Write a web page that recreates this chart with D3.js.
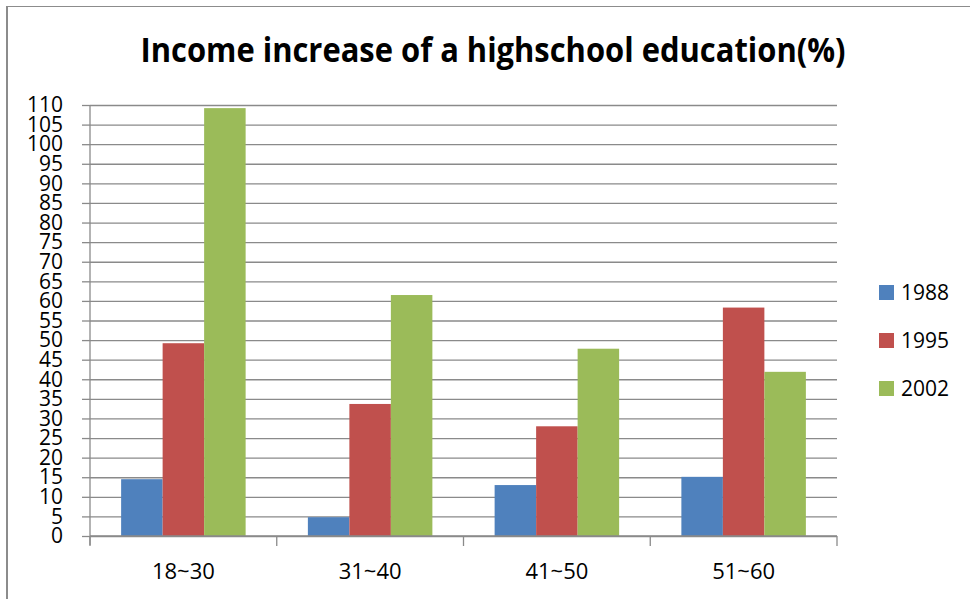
<!DOCTYPE html>
<html>
<head>
<meta charset="utf-8">
<script src="https://cdn.jsdelivr.net/npm/d3@7"></script>
<style>
  html, body { margin: 0; padding: 0; background: #fff; }
  svg { display: block; }
  text { font-family: "Open Sans", "DejaVu Sans", sans-serif; fill: #000; }
</style>
</head>
<body>
<svg id="chart" width="970" height="599"></svg>
<script>
// Age groups along the x axis
const categories = ["18~30", "31~40", "41~50", "51~60"];
// Survey years, one bar series each
const seriesNames = ["1988", "1995", "2002"];
const values1988 = [14.5, 4.8, 13.0, 15.1];
const values1995 = [49.2, 33.7, 28.0, 58.3];
const values2002 = [109.2, 61.5, 47.8, 41.9];
const yTickValues = d3.range(0, 111, 5);
const titleText = "Income increase of a highschool education(%)";

const seriesValues = [values1988, values1995, values2002];
const colors = ["#4F81BD", "#C0504D", "#9BBB59"];

const svg = d3.select("#chart");
const plot = { left: 90, right: 837, top: 105, bottom: 536 };
const gridColor = "#8a8a8a";

// Chart area frame
svg.append("line").attr("x1", 6).attr("x2", 970).attr("y1", 6.5).attr("y2", 6.5)
  .attr("stroke", "#8c8c8c").attr("stroke-width", 1);
svg.append("line").attr("x1", 7).attr("x2", 7).attr("y1", 6).attr("y2", 599)
  .attr("stroke", "#8c8c8c").attr("stroke-width", 2);

// Title
svg.append("text")
  .attr("x", 493).attr("y", 62)
  .attr("text-anchor", "middle")
  .attr("font-size", 34).attr("font-weight", 700)
  .attr("textLength", 705).attr("lengthAdjust", "spacingAndGlyphs")
  .text(titleText);

const x0 = d3.scaleBand().domain(categories).range([plot.left, plot.right]).padding(0);
const x1 = d3.scaleBand().domain(seriesNames).range([0, x0.bandwidth()])
  .paddingInner(0).paddingOuter(0.75);
const y = d3.scaleLinear().domain([0, 110]).range([plot.bottom, plot.top]);

// Horizontal gridlines
const grid = svg.append("g").attr("transform", `translate(${plot.left},0)`)
  .call(d3.axisLeft(y).tickValues(yTickValues).tickSize(-(plot.right - plot.left)).tickFormat(""));
grid.select(".domain").remove();
grid.selectAll(".tick line").attr("stroke", gridColor).attr("stroke-width", 1.3);

// Bars
const rows = categories.map((c, i) => ({ cat: c, vals: seriesNames.map((s, j) => ({ s, v: seriesValues[j][i], j })) }));
svg.append("g").selectAll("g").data(rows).join("g")
  .attr("transform", d => `translate(${x0(d.cat)},0)`)
  .selectAll("rect").data(d => d.vals).join("rect")
  .attr("x", d => x1(d.s))
  .attr("y", d => y(d.v))
  .attr("width", x1.bandwidth())
  .attr("height", d => y(0) - y(d.v))
  .attr("fill", d => colors[d.j]);

// Y axis
const yAxis = svg.append("g").attr("transform", `translate(${plot.left},0)`)
  .call(d3.axisLeft(y).tickValues(yTickValues).tickSize(8).tickPadding(19));
yAxis.select(".domain").attr("stroke", gridColor).attr("stroke-width", 1.3)
  .attr("d", `M0,${plot.top}V${plot.bottom + 9}`);
yAxis.selectAll(".tick line").attr("stroke", gridColor).attr("stroke-width", 1.3);
yAxis.selectAll(".tick text").attr("font-size", 21).attr("fill", "#000")
  .style("font-family", '"Open Sans", sans-serif');

// X axis with tick marks between categories
const xAxis = svg.append("g").attr("transform", `translate(0,${plot.bottom})`)
  .call(d3.axisBottom(x0).tickSize(0).tickPadding(27));
xAxis.select(".domain").attr("stroke", gridColor).attr("stroke-width", 1.3)
  .attr("d", `M${plot.left},0H${plot.right}`);
xAxis.selectAll(".tick text").attr("font-size", 22).attr("fill", "#000")
  .style("font-family", '"Open Sans", sans-serif');
const boundaries = categories.map(c => x0(c)).concat([x0.range()[1]]);
xAxis.selectAll("line.sep").data(boundaries).join("line").attr("class", "sep")
  .attr("x1", d => d).attr("x2", d => d).attr("y1", 0).attr("y2", 10)
  .attr("stroke", gridColor).attr("stroke-width", 1.3);

// Legend
const legend = svg.append("g").selectAll("g").data(seriesNames).join("g")
  .attr("transform", (d, i) => `translate(879,${285 + i * 48})`);
legend.append("rect").attr("width", 15).attr("height", 15).attr("fill", (d, i) => colors[i]);
legend.append("text").attr("x", 22).attr("y", 14.5).attr("font-size", 21).text(d => d);
</script>
</body>
</html>
